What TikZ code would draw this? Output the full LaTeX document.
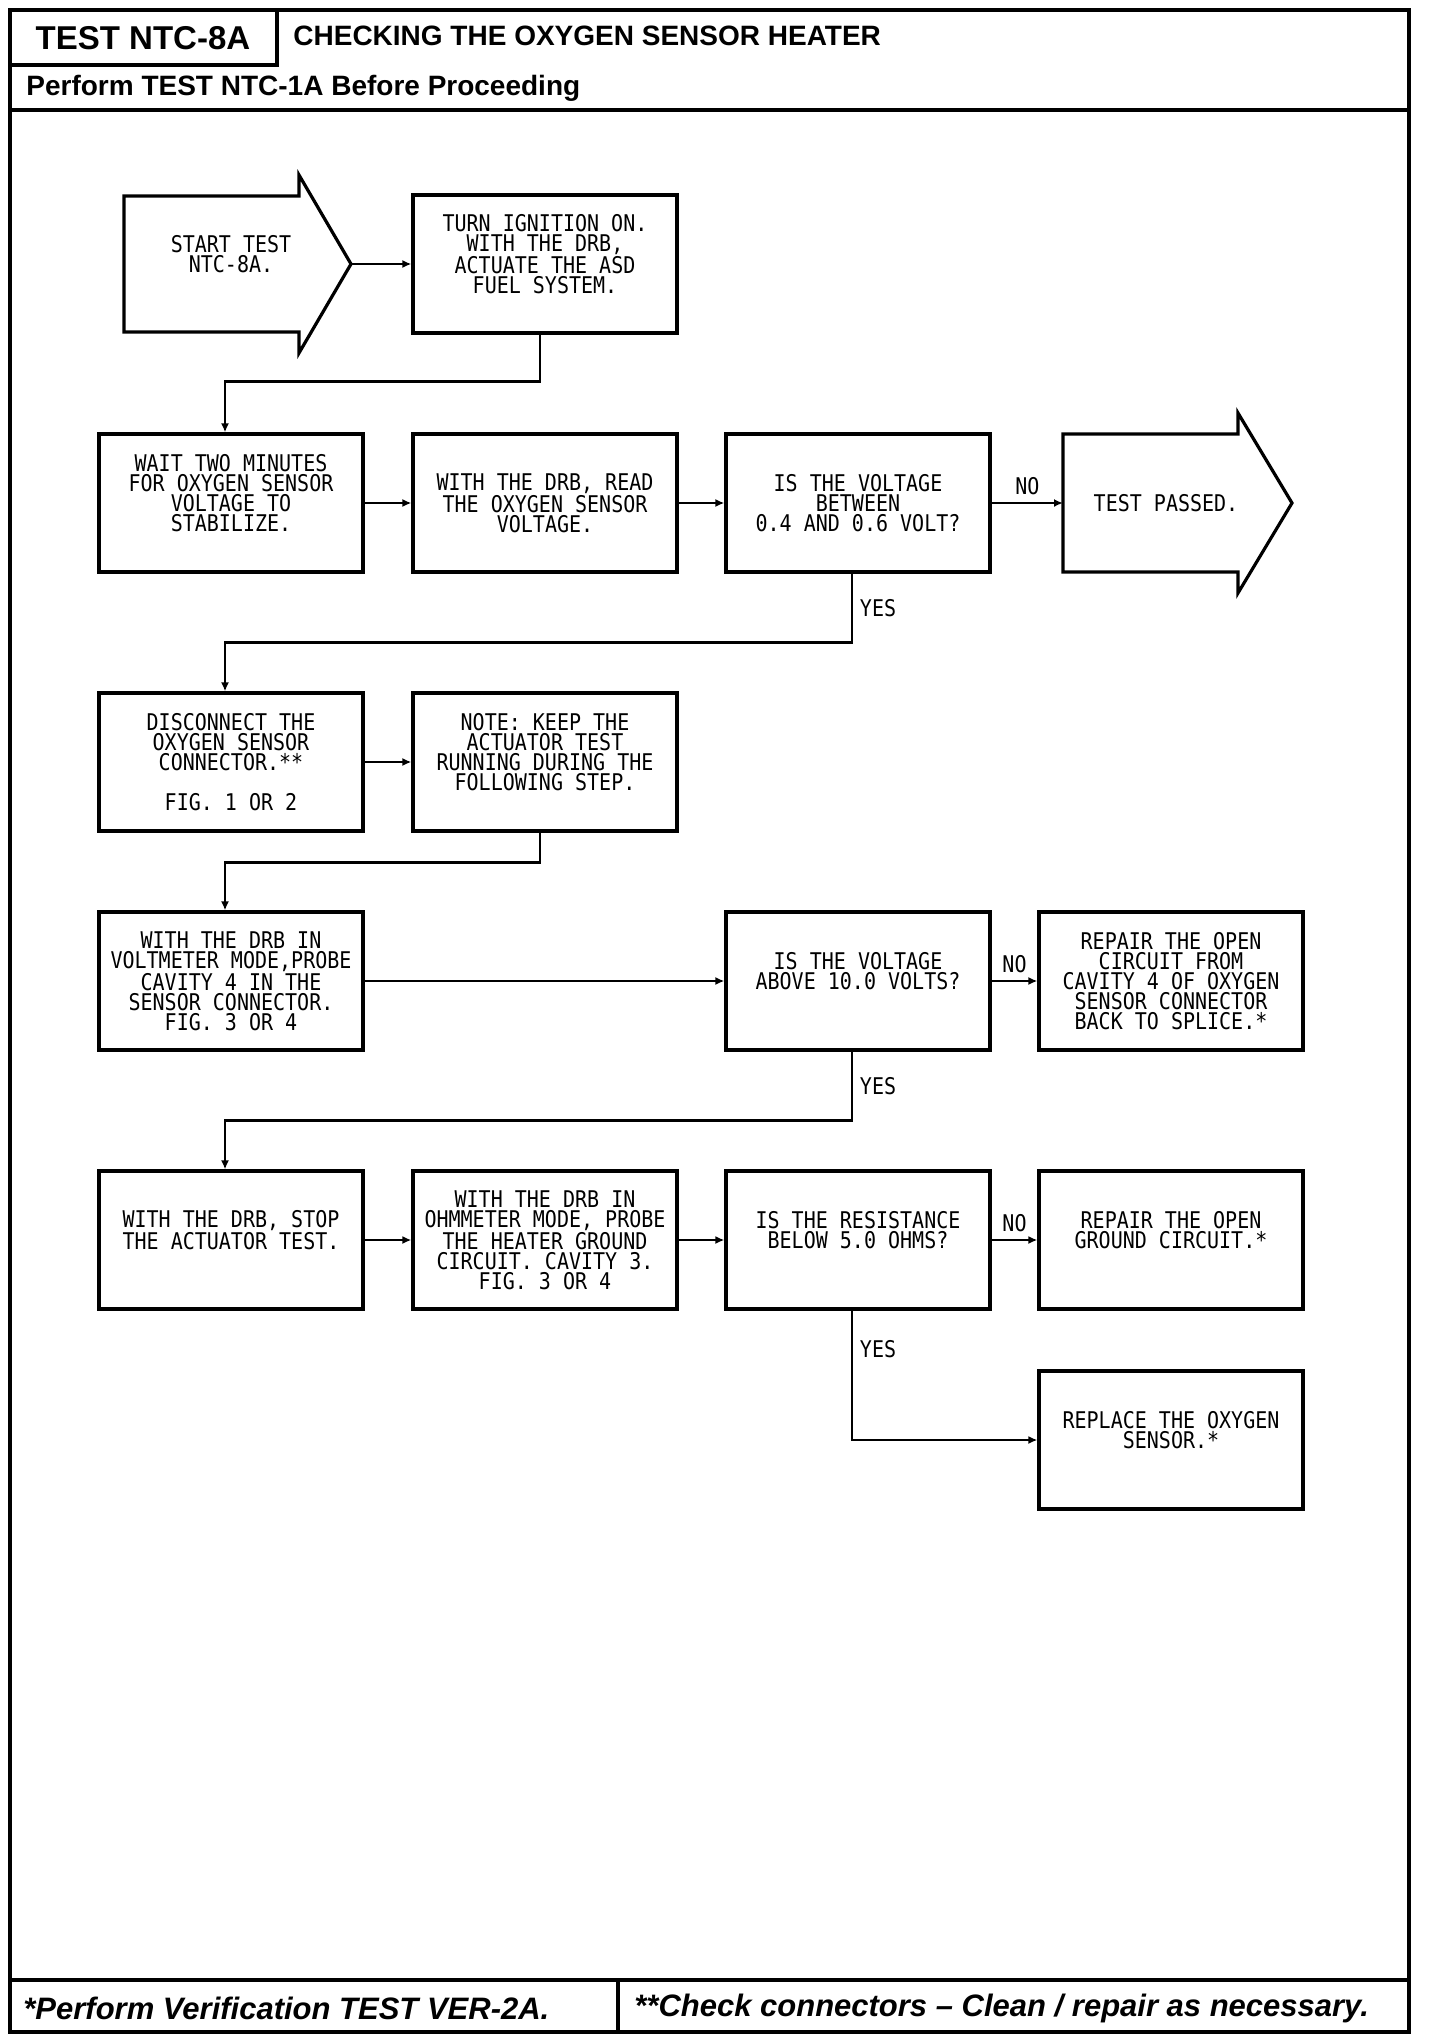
\documentclass[tikz,border=0pt]{standalone}
\usepackage{fontspec}
\setmainfont{Liberation Sans}
\newfontfamily\plotfont{DejaVu Sans Mono}[FakeStretch=0.87]
\usepackage{tikz}
\usetikzlibrary{arrows.meta}

\tikzset{
  plottext/.style={font=\plotfont\fontsize{11.5}{10}\selectfont, align=center},
  stepbox/.style={plottext, draw, line width=1.6pt, minimum width=132pt, minimum height=69pt, inner sep=0pt},
  boxline/.style={line width=1.6pt, line join=miter},
  yesno/.style={font=\plotfont\fontsize{11.5}{10}\selectfont},
  flow/.style={-{Latex[length=4.5pt,width=4pt]}, line width=1.3pt},
  pageline/.style={line width=1.6pt},
  headtext/.style={inner sep=0pt},
}

\begin{document}
\begin{tikzpicture}[x=0.5pt, y=-0.5pt]
\fill[white] (0,0) rectangle (1440,2040);
\useasboundingbox (0,0) rectangle (1440,2040);

% page frame
\draw[pageline] (10,10) rectangle (1409,2032);
\draw[pageline] (277,10) -- (277,65) -- (10,65);
\draw[pageline] (10,110) -- (1409,110);
\draw[pageline] (10,1980) -- (1409,1980);
\draw[pageline] (618,1980) -- (618,2032);

% headings
\node[headtext, font=\bfseries\fontsize{16.5}{18}\selectfont] (testno) at (143,38) {TEST NTC-8A};
\node[headtext, anchor=west, font=\bfseries\fontsize{14}{16}\selectfont] (heading) at (293,36) {CHECKING THE OXYGEN SENSOR HEATER};
\node[headtext, anchor=west, font=\bfseries\fontsize{14}{16}\selectfont] (before) at (26,88) {Perform TEST NTC-1A Before Proceeding};

% footnotes
\node[headtext, anchor=west, font=\bfseries\itshape\fontsize{15.5}{17}\selectfont] (verify) at (23,2008) {*Perform Verification TEST VER-2A.};
\node[headtext, anchor=west, font=\bfseries\itshape\fontsize{15.5}{17}\selectfont] (check) at (634,2008) {**Check connectors -- Clean / repair as necessary.};

% start and end arrows
\node[plottext] (start) at (231,264) {START TEST\\NTC-8A.\\~};
\draw[boxline] (124,196) -- (299,196) -- (299,175) -- (351,264) -- (299,353) -- (299,332) -- (124,332) -- cycle;
\coordinate (starttip) at (351,264);

\node[plottext] (passed) at (1166,503) {TEST PASSED.};
\draw[boxline] (1063,434) -- (1238,434) -- (1238,413) -- (1292,503) -- (1238,593) -- (1238,572) -- (1063,572) -- cycle;
\coordinate (passedin) at (1063,503);

% steps
\node[stepbox] (turn) at (545,264) {TURN IGNITION ON.\\WITH THE DRB,\\ACTUATE THE ASD\\FUEL SYSTEM.\\~};
\node[stepbox] (wait) at (231,503) {WAIT TWO MINUTES\\FOR OXYGEN SENSOR\\VOLTAGE TO\\STABILIZE.\\~};
\node[stepbox] (read) at (545,503) {WITH THE DRB, READ\\THE OXYGEN SENSOR\\VOLTAGE.};
\node[stepbox] (between) at (858,503) {IS THE VOLTAGE\\BETWEEN\\0.4 AND 0.6 VOLT?};
\node[stepbox] (disconnect) at (231,762) {DISCONNECT THE\\OXYGEN SENSOR\\CONNECTOR.**\\~\\FIG. 1 OR 2};
\node[stepbox] (note) at (545,762) {NOTE: KEEP THE\\ACTUATOR TEST\\RUNNING DURING THE\\FOLLOWING STEP.\\~};
\node[stepbox] (voltmeter) at (231,981) {WITH THE DRB IN\\VOLTMETER MODE,PROBE\\CAVITY 4 IN THE\\SENSOR CONNECTOR.\\FIG. 3 OR 4};
\node[stepbox] (above) at (858,981) {IS THE VOLTAGE\\ABOVE 10.0 VOLTS?\\~};
\node[stepbox] (repaircirc) at (1171,981) {REPAIR THE OPEN\\CIRCUIT FROM\\CAVITY 4 OF OXYGEN\\SENSOR CONNECTOR\\BACK TO SPLICE.*};
\node[stepbox] (stop) at (231,1240) {WITH THE DRB, STOP\\THE ACTUATOR TEST.\\~};
\node[stepbox] (ohm) at (545,1240) {WITH THE DRB IN\\OHMMETER MODE, PROBE\\THE HEATER GROUND\\CIRCUIT. CAVITY 3.\\FIG. 3 OR 4};
\node[stepbox] (below) at (858,1240) {IS THE RESISTANCE\\BELOW 5.0 OHMS?\\~};
\node[stepbox] (repairgnd) at (1171,1240) {REPAIR THE OPEN\\GROUND CIRCUIT.*\\~};
\node[stepbox] (replace) at (1171,1440) {REPLACE THE OXYGEN\\SENSOR.*\\~};

% connectors
\draw[flow] (starttip) -- (turn);
\draw[flow] ([xshift=-2.5pt]turn.south) -- ++(0,47) -| ([xshift=-3pt]wait.north);
\draw[flow] (wait) -- (read);
\draw[flow] (read) -- (between);
\draw[flow] (between) -- node[yesno, above] {NO} (passedin);
\draw[flow] ([xshift=-3pt]between.south) -- ++(0,69) node[yesno, midway, right] {YES} -| ([xshift=-3pt]disconnect.north);
\draw[flow] (disconnect) -- (note);
\draw[flow] ([xshift=-2.5pt]note.south) -- ++(0,30) -| ([xshift=-3pt]voltmeter.north);
\draw[flow] (voltmeter) -- (above);
\draw[flow] (above) -- node[yesno, above] {NO} (repaircirc);
\draw[flow] ([xshift=-3pt]above.south) -- ++(0,69) node[yesno, midway, right] {YES} -| ([xshift=-3pt]stop.north);
\draw[flow] (stop) -- (ohm);
\draw[flow] (ohm) -- (below);
\draw[flow] (below) -- node[yesno, above] {NO} (repairgnd);
\draw[flow] ([xshift=-3pt]below.south) |- node[yesno, pos=0.15, right] {YES} (replace.west);
\end{tikzpicture}
\end{document}
